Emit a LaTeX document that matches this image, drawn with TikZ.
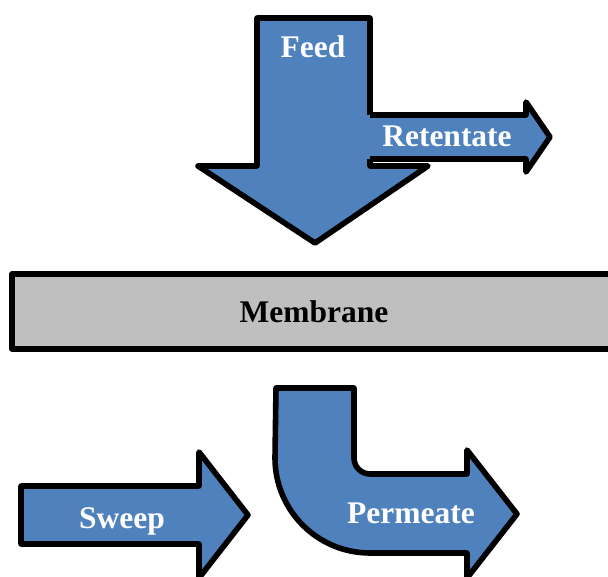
\documentclass[tikz,border=0pt]{standalone}
\usepackage{fontspec}
\setmainfont{Liberation Serif}
\definecolor{flowblue}{HTML}{4F81BD}
\definecolor{membgray}{HTML}{BFBFBF}
\begin{document}
\begin{tikzpicture}
    [x=1pt, y=-1pt,
    flow/.style={fill=flowblue, draw=black, line width=5.6pt, line join=round},
    edge/.style={draw=black, line width=5.6pt, line join=round},
    lbl/.style={text=white, anchor=base, inner sep=0pt, font=\bfseries\fontsize{31.5}{31.5}\selectfont},
    membtext/.style={lbl, text=black}]
    \useasboundingbox (0,0) rectangle (608,577);
    % feed arrow pointing down
    \path[flow] (257,18) -- (370,18) -- (370,166) -- (428,166) -- (315,243)
      -- (198,166) -- (257,166) -- cycle;
    % retentate branch, open on its left side
    \fill[flowblue] (366,115) -- (526,115) -- (526,102) -- (550,137)
      -- (526,172) -- (526,159) -- (366,159) -- cycle;
    \draw[edge] (370,115) -- (526,115) -- (526,102) -- (550,137)
      -- (526,172) -- (526,159) -- (370,159);
    % membrane
    \path[fill=membgray, edge] (12,274) rectangle (625,349);
    % sweep arrow
    \path[flow] (21,486) -- (199,486) -- (199,452) -- (248,515) -- (199,578)
      -- (199,544) -- (21,544) -- cycle;
    % permeate bent arrow
    \path[flow] (276,388) -- (354,388) -- (354,458)
      .. controls (354,466.8) and (361.2,474) .. (370,474)
      -- (467,474) -- (467,450) -- (517,514) -- (467,578) -- (467,553)
      -- (370,553) .. controls (317.5,553) and (275,510.5) .. (275,458) -- cycle;
    \node[lbl] (feed) at (313,58) {Feed};
    \node[lbl] (retentate) at (447,147) {Retentate};
    \node[membtext] (membrane) at (314,323) {Membrane};
    \node[lbl] (sweep) at (122,528) {Sweep};
    \node[lbl] (permeate) at (411,523) {Permeate};
\end{tikzpicture}
\end{document}
